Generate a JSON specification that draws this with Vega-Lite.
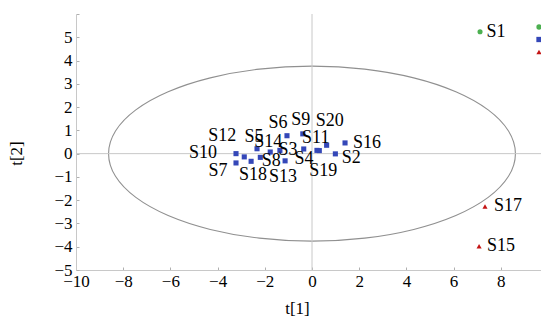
{
  "$schema": "https://vega.github.io/schema/vega-lite/v6.json",
  "width": 472,
  "height": 256,
  "autosize": {"type": "none"},
  "padding": {"left": 76, "top": 14, "right": 0, "bottom": 52},
  "background": "white",
  "config": {
    "font": "Liberation Serif",
    "view": {"stroke": null},
    "axis": {
      "labelFont": "Liberation Serif",
      "titleFont": "Liberation Serif",
      "labelFontSize": 17,
      "titleFontSize": 17,
      "titleFontWeight": "normal",
      "labelColor": "#000000",
      "titleColor": "#000000",
      "domainColor": "#c8c8c8",
      "tickColor": "#b0b0b0",
      "grid": false,
      "labelFlush": false,
      "labelBound": false
    }
  },
  "params": [
    {"name": "ldx", "value": {"S1": 16, "S15": 22, "S17": 23, "S16": 22, "S6": -9, "S9": -2, "S20": 3, "S11": 12, "S2": 16, "S19": 4, "S4": -13, "S3": 8, "S14": -2, "S5": -3, "S12": -22, "S10": -33, "S7": -18, "S18": 2, "S8": 11, "S13": -2}},
    {"name": "ldy", "value": {"S1": 0, "S15": 0, "S17": 0, "S16": 0, "S6": -13, "S9": -14, "S20": -24, "S11": -11, "S2": 4, "S19": 20, "S4": 9, "S3": 0, "S14": -10, "S5": -12, "S12": -21, "S10": -1, "S7": 8, "S18": 14, "S8": 4, "S13": 16}}
  ],
  "datasets": {
    "zero": [{"z": 0}],
    "ellipse": [
      {"k": 0, "t1": 8.62, "t2": 0},
      {"k": 1, "t1": 8.326, "t2": 0.973},
      {"k": 2, "t1": 7.465, "t2": 1.88},
      {"k": 3, "t1": 6.095, "t2": 2.659},
      {"k": 4, "t1": 4.31, "t2": 3.256},
      {"k": 5, "t1": 2.231, "t2": 3.632},
      {"k": 6, "t1": 0, "t2": 3.76},
      {"k": 7, "t1": -2.231, "t2": 3.632},
      {"k": 8, "t1": -4.31, "t2": 3.256},
      {"k": 9, "t1": -6.095, "t2": 2.659},
      {"k": 10, "t1": -7.465, "t2": 1.88},
      {"k": 11, "t1": -8.326, "t2": 0.973},
      {"k": 12, "t1": -8.62, "t2": 0},
      {"k": 13, "t1": -8.326, "t2": -0.973},
      {"k": 14, "t1": -7.465, "t2": -1.88},
      {"k": 15, "t1": -6.095, "t2": -2.659},
      {"k": 16, "t1": -4.31, "t2": -3.256},
      {"k": 17, "t1": -2.231, "t2": -3.632},
      {"k": 18, "t1": 0, "t2": -3.76},
      {"k": 19, "t1": 2.231, "t2": -3.632},
      {"k": 20, "t1": 4.31, "t2": -3.256},
      {"k": 21, "t1": 6.095, "t2": -2.659},
      {"k": 22, "t1": 7.465, "t2": -1.88},
      {"k": 23, "t1": 8.326, "t2": -0.973}
    ],
    "scores": [
      {"label": "S1", "t1": 7.12, "t2": 5.24, "g": "A"},
      {"label": "S15", "t1": 7.08, "t2": -3.98, "g": "C"},
      {"label": "S17", "t1": 7.33, "t2": -2.27, "g": "C"},
      {"label": "S6", "t1": -1.06, "t2": 0.77, "g": "B"},
      {"label": "S9", "t1": -0.39, "t2": 0.85, "g": "B"},
      {"label": "S16", "t1": 1.4, "t2": 0.46, "g": "B"},
      {"label": "S20", "t1": 0.62, "t2": 0.36, "g": "B"},
      {"label": "S4", "t1": 0.21, "t2": 0.14, "g": "B"},
      {"label": "S19", "t1": 0.31, "t2": 0.13, "g": "B"},
      {"label": "S11", "t1": -0.35, "t2": 0.2, "g": "B"},
      {"label": "S2", "t1": 0.99, "t2": -0.01, "g": "B"},
      {"label": "S3", "t1": -1.36, "t2": 0.14, "g": "B"},
      {"label": "S14", "t1": -1.77, "t2": 0.07, "g": "B"},
      {"label": "S5", "t1": -2.33, "t2": 0.21, "g": "B"},
      {"label": "S8", "t1": -2.19, "t2": -0.16, "g": "B"},
      {"label": "S18", "t1": -2.58, "t2": -0.33, "g": "B"},
      {"label": "S12", "t1": -2.87, "t2": -0.14, "g": "B"},
      {"label": "S10", "t1": -3.22, "t2": 0.0, "g": "B"},
      {"label": "S7", "t1": -3.22, "t2": -0.4, "g": "B"},
      {"label": "S13", "t1": -1.14, "t2": -0.31, "g": "B"}
    ]
  },
  "layer": [
    {
      "data": {"name": "ellipse"},
      "mark": {"type": "line", "interpolate": "cardinal-closed", "color": "#909090", "strokeWidth": 1.1},
      "encoding": {
        "x": {"field": "t1", "type": "quantitative", "title": "t[1]", "scale": {"domain": [-10, 10], "nice": false, "zero": false},
          "axis": {"values": [-10, -9, -8, -7, -6, -5, -4, -3, -2, -1, 0, 1, 2, 3, 4, 5, 6, 7, 8, 9], "labelExpr": "(datum.value % 2 === 0) ? datum.label : ''", "labelFont": "Liberation Serif", "tickSize": -3, "labelPadding": 6, "titlePadding": 11, "titleX": 221, "grid": false}},
        "y": {"field": "t2", "type": "quantitative", "title": "t[2]", "scale": {"domain": [-5, 6], "nice": false, "zero": false},
          "axis": {"tickCount": 11, "labelExpr": "datum.value <= 5 ? datum.label : ''", "labelOverlap": false, "labelFont": "Liberation Serif", "tickSize": -3, "labelPadding": 7, "titleX": -51, "titleY": 139, "grid": false}},
        "order": {"field": "k", "type": "quantitative"}
      }
    },
    {
      "data": {"name": "zero"},
      "mark": {"type": "rule", "color": "#c8c8c8", "strokeWidth": 1},
      "encoding": {"x": {"field": "z", "type": "quantitative"}}
    },
    {
      "data": {"name": "zero"},
      "mark": {"type": "rule", "color": "#c8c8c8", "strokeWidth": 1},
      "encoding": {"y": {"field": "z", "type": "quantitative"}}
    },
    {
      "data": {"name": "scores"},
      "mark": {"type": "point", "filled": true, "opacity": 1, "size": 26},
      "encoding": {
        "x": {"field": "t1", "type": "quantitative", "title": "t[1]"},
        "y": {"field": "t2", "type": "quantitative", "title": "t[2]"},
        "color": {"field": "g", "type": "nominal", "scale": {"domain": ["A", "B", "C"], "range": ["#4cb050", "#3447b8", "#c41414"]},
          "legend": {"orient": "none", "legendX": 458, "legendY": 8, "title": null, "padding": 0, "labelOpacity": 0, "labelFontSize": 10, "rowPadding": 2.5, "symbolSize": 28, "symbolStrokeWidth": 0}},
        "shape": {"field": "g", "type": "nominal", "scale": {"domain": ["A", "B", "C"], "range": ["circle", "square", "triangle-up"]},
          "legend": {"orient": "none", "legendX": 458, "legendY": 8, "title": null, "padding": 0, "labelOpacity": 0, "labelFontSize": 10, "rowPadding": 2.5, "symbolSize": 28, "symbolStrokeWidth": 0}}
      }
    },
    {
      "data": {"name": "scores"},
      "mark": {"type": "text", "font": "Liberation Serif", "fontSize": 18, "color": "#000000", "align": "center", "baseline": "middle", "dx": {"expr": "ldx[datum.label]"}, "dy": {"expr": "ldy[datum.label]"}},
      "encoding": {
        "x": {"field": "t1", "type": "quantitative", "title": "t[1]"},
        "y": {"field": "t2", "type": "quantitative", "title": "t[2]"},
        "text": {"field": "label"}
      }
    },
    {
      "mark": {"type": "point", "shape": "triangle-up", "filled": true, "color": "#a0a0a0", "size": 18, "opacity": 1},
      "encoding": {
        "x": {"datum": -10, "type": "quantitative"},
        "y": {"datum": 5.8, "type": "quantitative"}
      }
    }
  ]
}
